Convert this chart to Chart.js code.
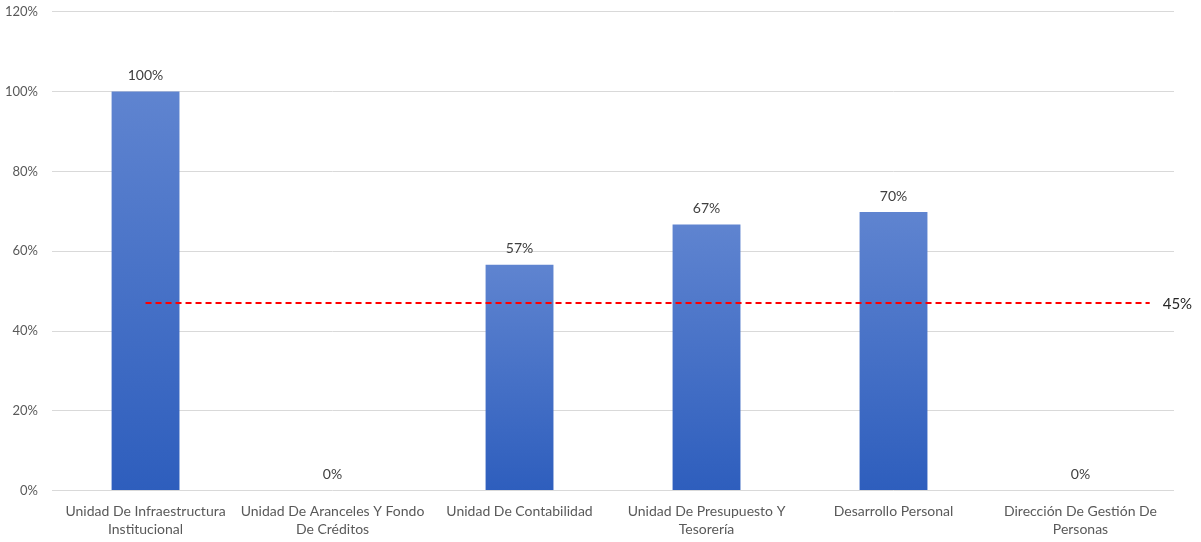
<!DOCTYPE html>
<html>
<head>
<meta charset="utf-8">
<script src="https://cdn.jsdelivr.net/npm/chart.js@4/dist/chart.umd.min.js"></script>
<style>
  html, body { margin: 0; padding: 0; background: #fff; overflow: hidden; }
  #wrap { width: 1206px; height: 549px; margin-top: -10px; margin-left: -5px; }
</style>
</head>
<body>
<div id="wrap"><canvas id="grafico"></canvas></div>
<script>
// categorias del eje x (dos lineas cada una)
const categorias = [
  ["Unidad De Infraestructura", "Institucional"],
  ["Unidad De Aranceles Y Fondo", "De Créditos"],
  ["Unidad De Contabilidad"],
  ["Unidad De Presupuesto Y", "Tesorería"],
  ["Desarrollo Personal"],
  ["Dirección De Gestión De", "Personas"],
];

// porcentajes de cada unidad
const valores = [100, 0, 56.6, 66.7, 69.8, 0];

// linea de meta (dibujada un poco sobre el 45%, como en la imagen)
const metaValor = 47;
const metaTexto = "45%";
const metaDesde = 0;
const metaHasta = 5.37;

// ticks del eje y
const ticksY = [0, 20, 40, 60, 80, 100, 120];

const fuente = "Lato, 'Open Sans', sans-serif";

// degradado por barra, claro arriba y oscuro abajo
function colorBarra(ctx) {
  const chart = ctx.chart;
  if (!chart.chartArea || ctx.type !== "data") return "#3a67c4";
  const y = chart.scales.y;
  const arriba = y.getPixelForValue(ctx.raw);
  const abajo = y.getPixelForValue(0);
  if (abajo - arriba < 1) return "#3a67c4";
  const g = chart.ctx.createLinearGradient(0, arriba, 0, abajo);
  g.addColorStop(0, "#5f84d0");
  g.addColorStop(1, "#2e5ebd");
  return g;
}

// etiquetas sobre las barras y texto de la meta
const etiquetas = {
  id: "etiquetas",
  afterDatasetsDraw(chart) {
    const ctx = chart.ctx;
    ctx.save();
    ctx.textAlign = "center";
    ctx.textBaseline = "middle";
    ctx.font = "14px " + fuente;
    ctx.fillStyle = "#404040";
    const barras = chart.getDatasetMeta(0).data;
    barras.forEach((b, i) => {
      ctx.fillText(Math.round(valores[i]) + "%", b.x, b.y - 16);
    });
    const linea = chart.getDatasetMeta(1).data;
    const ultimo = linea[linea.length - 1];
    ctx.textAlign = "left";
    ctx.font = "15px " + fuente;
    ctx.fillStyle = "#262626";
    ctx.fillText(metaTexto, ultimo.x + 13, ultimo.y + 1);
    ctx.restore();
  },
};

const data = {
  labels: categorias,
  datasets: [
    {
      type: "bar",
      data: valores,
      backgroundColor: colorBarra,
      borderWidth: 0,
      grouped: false,
      barPercentage: 0.363,
      categoryPercentage: 1,
      order: 2,
    },
    {
      type: "line",
      xAxisID: "x2",
      data: [
        { x: metaDesde, y: metaValor },
        { x: metaHasta, y: metaValor },
      ],
      borderColor: "#ff0000",
      borderWidth: 2,
      borderDash: [6, 4],
      pointRadius: 0,
      fill: false,
      order: 1,
    },
  ],
};

const config = {
  type: "bar",
  data: data,
  plugins: [etiquetas],
  options: {
    responsive: true,
    maintainAspectRatio: false,
    animation: false,
    layout: { padding: { top: -6, right: 27, left: -4, bottom: -4 } },
    plugins: {
      legend: { display: false },
      tooltip: { enabled: false },
    },
    scales: {
      x: {
        grid: { display: false },
        border: { display: false },
        ticks: {
          color: "#595959",
          font: { family: fuente, size: 14, lineHeight: 1.3 },
          maxRotation: 0,
          autoSkip: false,
          padding: 4,
        },
      },
      x2: {
        type: "linear",
        display: false,
        offset: false,
        bounds: "data",
        min: -0.5,
        max: 5.5,
      },
      y: {
        min: 0,
        max: 120,
        afterBuildTicks(axis) {
          axis.ticks = ticksY.map((v) => ({ value: v }));
        },
        grid: { color: "#d9d9d9", drawTicks: false },
        border: { display: false },
        ticks: {
          color: "#595959",
          font: { family: fuente, size: 13 },
          padding: 14,
          callback: (v) => v + "%",
        },
      },
    },
  },
};

const canvas = document.getElementById("grafico");
const grafico = new Chart(canvas, config);
</script>
</body>
</html>
